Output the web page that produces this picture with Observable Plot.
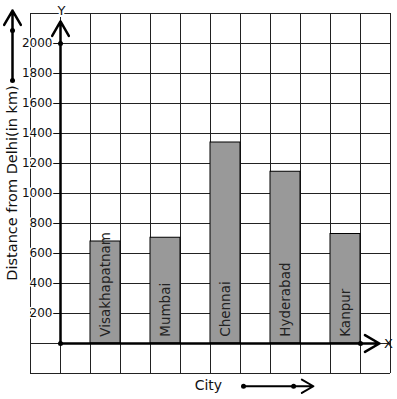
<!DOCTYPE html>
<html><head><meta charset="utf-8">
<script src="https://cdn.jsdelivr.net/npm/d3@7"></script>
<script src="https://cdn.jsdelivr.net/npm/@observablehq/plot@0.6"></script>
<style>body{margin:0;background:#fff}</style>
</head><body><div id="chart"></div>
<script>
// Data
const cities = ["Visakhapatnam", "Mumbai", "Chennai", "Hyderabad", "Kanpur"];
const distances = [680, 705, 1340, 1145, 730];
const yTickValues = [200, 400, 600, 800, 1000, 1200, 1400, 1600, 1800, 2000];
const yTitle = "Distance from Delhi(in km)";
const xTitle = "City";

const bars = cities.map((c, i) => ({city: c, distance: distances[i], slot: 2 * i + 1}));
const gridX = d3.range(-1, 12);
const gridY = d3.range(-200, 2201, 200);
const ink = "#111";
const font = "DejaVu Sans, sans-serif";

const chart = Plot.plot({
  width: 397,
  height: 399,
  margin: 0,
  style: {fontFamily: font, fontSize: "12px", background: "#fff", overflow: "visible"},
  x: {type: "linear", domain: [-2, 11.2333], range: [0, 397], axis: null},
  y: {type: "linear", domain: [-373.333, 2286.667], range: [399, 0], axis: null},
  marks: [
    // grid
    Plot.ruleX(gridX, {x: d => d, y1: -200, y2: 2200, stroke: "#222", strokeWidth: 1, strokeOpacity: 1}),
    Plot.ruleY(gridY, {y: d => d, x1: -1, x2: 11, stroke: "#222", strokeWidth: 1, strokeOpacity: 1}),
    // bars
    Plot.rect(bars, {x1: "slot", x2: d => d.slot + 1, y1: 0, y2: "distance", fill: "#999999", stroke: "#000", strokeWidth: 1}),
    // bar labels
    Plot.text(bars, {x: d => d.slot + 0.5, y: 45, text: "city", rotate: -90, textAnchor: "start", fontSize: 13.5, fill: "#222"}),
    // y tick marks and labels
    Plot.ruleY(yTickValues, {y: d => d, x1: -0.25, x2: 0, stroke: ink, strokeWidth: 1}),
    Plot.text(yTickValues, {x: 0, y: d => d, text: d => String(d), textAnchor: "end", dx: -8, fontSize: 12, fill: ink, stroke: "#fff", strokeWidth: 3}),
    // axes arrows
    Plot.arrow([{}], {x1: 0, y1: 0, x2: 0, y2: 2147, stroke: "#000", strokeWidth: 2.5, headLength: 10}),
    Plot.arrow([{}], {x1: 0, y1: 0, x2: 10.63, y2: 0, stroke: "#000", strokeWidth: 2.5, headLength: 10}),
    Plot.dot([[0, 0], [0, 2000], [10, 0]], {x: d => d[0], y: d => d[1], r: 2.5, fill: "#000"}),
    // axis letters
    Plot.text(["Y"], {x: 0.03, y: 2220, text: d => d, fontSize: 13, fill: ink, stroke: "#fff", strokeWidth: 4}),
    Plot.text(["X"], {x: 10.93, y: 0, text: d => d, fontSize: 13, fill: ink}),
    // decorative left arrow
    Plot.arrow([{}], {x1: -1.6, y1: 1753, x2: -1.6, y2: 2220, stroke: "#000", strokeWidth: 2.5, headLength: 10}),
    Plot.dot([[-1.6, 1753], [-1.6, 2087]], {x: d => d[0], y: d => d[1], r: 2.5, fill: "#000"}),
    // y title
    Plot.text([yTitle], {x: -1.6, y: 1070, text: d => d, rotate: -90, fontSize: 14.5, fill: ink}),
    // x title and arrow
    Plot.text([xTitle], {x: 4.93, y: -277, text: d => d, fontSize: 14, fill: ink}),
    Plot.arrow([{}], {x1: 6.1, y1: -285, x2: 8.43, y2: -285, stroke: "#000", strokeWidth: 2, headLength: 10}),
    Plot.dot([[6.1, -285], [7.77, -285]], {x: d => d[0], y: d => d[1], r: 2.5, fill: "#000"})
  ]
});
document.getElementById("chart").appendChild(chart);
</script>
</body></html>
